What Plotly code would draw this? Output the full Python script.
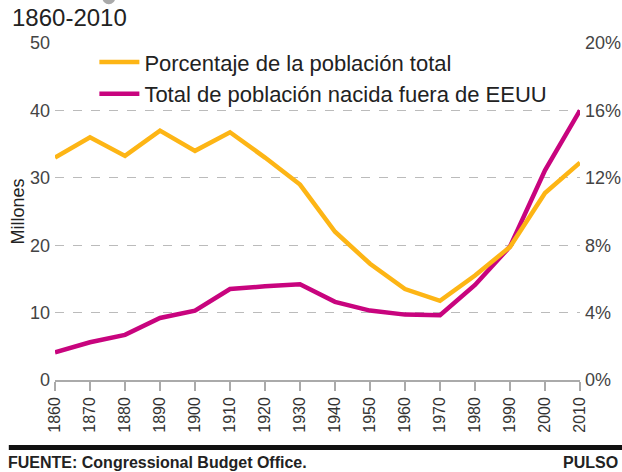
import plotly.graph_objects as go

years = [1860, 1870, 1880, 1890, 1900, 1910, 1920, 1930, 1940, 1950, 1960, 1970, 1980, 1990, 2000, 2010]
porcentaje = [13.2, 14.4, 13.3, 14.8, 13.6, 14.7, 13.2, 11.6, 8.8, 6.9, 5.4, 4.7, 6.2, 7.9, 11.1, 12.9]
total_millones = [4.1, 5.6, 6.7, 9.2, 10.3, 13.5, 13.9, 14.2, 11.6, 10.3, 9.7, 9.6, 14.1, 19.8, 31.1, 40.0]
left_ticks = [0, 10, 20, 30, 40, 50]
right_ticks = [0, 4, 8, 12, 16, 20]
right_labels = ["0%", "4%", "8%", "12%", "16%", "20%"]

ORANGE = "#FDB515"
PINK = "#C8047E"
FONT = "Liberation Sans, Arial, sans-serif"

fig = go.Figure()
fig.add_trace(go.Scatter(x=years, y=porcentaje, yaxis="y2", mode="lines",
                         name="Porcentaje de la población total",
                         line=dict(color=ORANGE, width=4.5)))
fig.add_trace(go.Scatter(x=years, y=total_millones, mode="lines",
                         name="Total de población nacida fuera de EEUU",
                         line=dict(color=PINK, width=4.5)))

fig.update_layout(
    width=622, height=472,
    margin=dict(l=55, r=42, t=43, b=92),
    paper_bgcolor="white", plot_bgcolor="white",
    font=dict(family=FONT, color="#222", size=16),
    showlegend=True,
    legend=dict(x=0.075, y=1.005, xanchor="left", yanchor="top",
                bgcolor="rgba(0,0,0,0)", font=dict(size=22, color="#222"),
                itemwidth=40, tracegroupgap=0, traceorder="normal"),
    xaxis=dict(range=[1860, 2010], tickvals=years, ticktext=[str(y) for y in years],
               tickangle=-90, showgrid=False, zeroline=False, automargin=False,
               showline=True, linecolor="#aaa", linewidth=1.5,
               ticks="outside", ticklen=9, tickcolor="#aaa", tickwidth=1.5,
               tickfont=dict(size=16, color="#333")),
    yaxis=dict(range=[0, 50], tickvals=left_ticks, showgrid=True, automargin=False,
               gridcolor="#bbb", griddash="dash", gridwidth=1.3, zeroline=False,
               tickfont=dict(size=18, color="#444"), ticks="", ticklabelstandoff=4,
               title=dict(text="Millones", font=dict(size=18, color="#222"), standoff=0)),
    yaxis2=dict(range=[0, 20], tickvals=right_ticks, ticktext=right_labels, automargin=False,
                overlaying="y", side="right", showgrid=False, zeroline=False,
                tickfont=dict(size=18, color="#444"), ticks="", ticklabelstandoff=4),
)

fig.add_annotation(text="1860-2010", xref="paper", yref="paper", x=-0.085, y=1.0,
                   yshift=41, xanchor="left", yanchor="top", showarrow=False,
                   font=dict(size=24, color="#222"))
fig.add_shape(type="circle", xref="paper", yref="paper",
              x0=0.09, x1=0.115, y0=1.115, y1=1.155,
              fillcolor="#aaa", line=dict(width=0), layer="above")
fig.add_shape(type="line", xref="paper", yref="paper", x0=-0.088, x1=1.08,
              y0=-0.2, y1=-0.2, line=dict(color="#111", width=5))
fig.add_annotation(text="<b>FUENTE: Congressional Budget Office.</b>", xref="paper", yref="paper",
                   x=-0.092, y=-0.272, xanchor="left", yanchor="bottom", showarrow=False,
                   borderpad=0, font=dict(size=16, color="#222"))
fig.add_annotation(text="<b>PULSO</b>", xref="paper", yref="paper",
                   x=1.075, y=-0.272, xanchor="right", yanchor="bottom", showarrow=False,
                   borderpad=0, font=dict(size=16, color="#222"))

fig.write_html("out.html")
